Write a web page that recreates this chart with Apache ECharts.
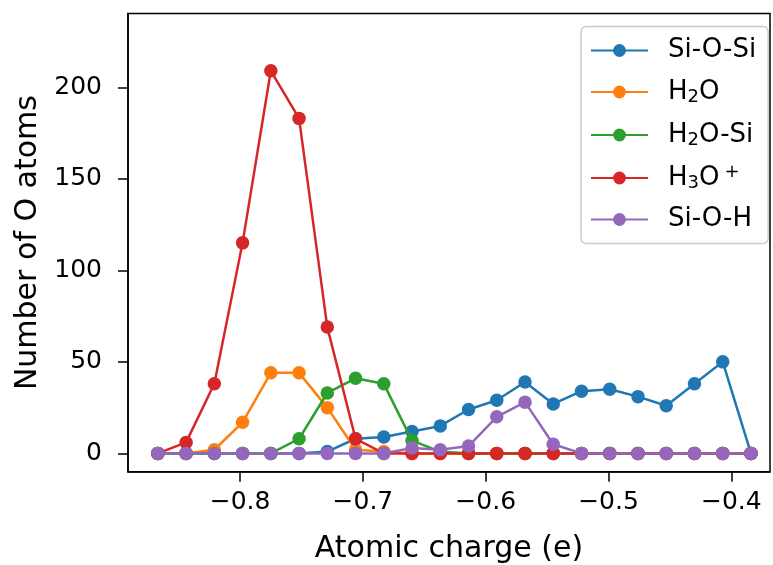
<!DOCTYPE html>
<html><head><meta charset="utf-8">
<script src="https://cdn.jsdelivr.net/npm/echarts@6/dist/echarts.min.js"></script>
<style>html,body{margin:0;padding:0;background:#fff}#c{width:773px;height:565px}</style>
</head><body><div id="c"></div>
<script>
const charges = [-0.867,-0.844,-0.821,-0.798,-0.775,-0.752,-0.729,-0.706,-0.683,-0.660,-0.637,-0.614,-0.591,-0.568,-0.545,-0.522,-0.499,-0.476,-0.453,-0.430,-0.407,-0.384];
const siOSi = [0,0,0,0,0,0,1,8,9,12,15,24,29,39,27,34,35,31,26,38,50,0];
const h2o   = [0,0,2,17,44,44,25,2,1,0,0,0,0,0,0,0,0,0,0,0,0,0];
const h2oSi = [0,0,0,0,0,8,33,41,38,7,1,0,0,0,0,0,0,0,0,0,0,0];
const h3o   = [0,6,38,115,209,183,69,8,0,0,0,0,0,0,0,0,0,0,0,0,0,0];
const siOH  = [0,0,0,0,0,0,0,0,0,3,2,4,20,28,5,0,0,0,0,0,0,0];
const seriesNames = ['Si-O-Si','H2O','H2O-Si','H3O+','Si-O-H'];
const seriesValues = [siOSi,h2o,h2oSi,h3o,siOH];
const colors = ['#1f77b4','#ff7f0e','#2ca02c','#d62728','#9467bd'];
const xTicks = [-0.8,-0.7,-0.6,-0.5,-0.4];
const yTicks = [0,50,100,150,200];

const FONT = 'DejaVu Sans';
const richNames = {
  'Si-O-Si': '{n|Si-O-Si}',
  'H2O': '{n|H}{sub|2}{n|O}',
  'H2O-Si': '{n|H}{sub|2}{n|O-Si}',
  'H3O+': '{n|H}{sub|3}{n|O}{sup|+}',
  'Si-O-H': '{n|Si-O-H}'
};
const chart = echarts.init(document.getElementById('c'), null, {renderer:'canvas'});
const fmt = v => (v < 0 ? '\u2212' : '') + Math.abs(v).toFixed(1);
chart.setOption({
  animation:false,
  backgroundColor:'#fff',
  textStyle:{fontFamily:FONT, color:'#000'},
  grid:{left:128, right:3, top:13.5, bottom:93.3, containLabel:false, outerBoundsMode:'none',
        show:true, borderColor:'#000', borderWidth:1.5, backgroundColor:'transparent'},
  xAxis:{
    type:'value', min:-0.8913, max:-0.3685,
    name:'Atomic charge (e)', nameLocation:'middle', nameGap:63,
    nameTextStyle:{fontSize:30, fontFamily:FONT, color:'#000'},
    axisLine:{show:true, onZero:false, lineStyle:{color:'#000', width:1.5}},
    axisTick:{show:true, length:10, lineStyle:{color:'#000', width:1.5}, customValues:xTicks},
    axisLabel:{fontSize:25, fontFamily:FONT, color:'#000', margin:18, customValues:xTicks, formatter:fmt},
    splitLine:{show:false}
  },
  yAxis:{
    type:'value', min:-10, max:240.3,
    name:'Number of O atoms', nameLocation:'middle', nameGap:83,
    nameTextStyle:{fontSize:30, fontFamily:FONT, color:'#000'},
    axisLine:{show:true, onZero:false, lineStyle:{color:'#000', width:1.5}},
    axisTick:{show:true, length:10, lineStyle:{color:'#000', width:1.5}, customValues:yTicks},
    axisLabel:{fontSize:25, fontFamily:FONT, color:'#000', margin:26, customValues:yTicks},
    splitLine:{show:false}
  },
  legend:{
    orient:'vertical', left:581, top:26.5, itemWidth:57, itemHeight:16, itemGap:14,
    padding:[11,12,11,9],
    backgroundColor:'rgba(255,255,255,0.8)', borderColor:'#cccccc', borderWidth:1.5, borderRadius:5,
    data:seriesNames,
    formatter: name => richNames[name],
    textStyle:{
      fontFamily:FONT, fontSize:26, color:'#000', padding:[0,0,0,15],
      rich:{
        n:{fontFamily:FONT, fontSize:26, lineHeight:30, color:'#000'},
        sub:{fontFamily:FONT, fontSize:18, lineHeight:30, color:'#000', padding:[11,0,0,0]},
        sup:{fontFamily:FONT, fontSize:18, lineHeight:30, color:'#000', padding:[0,0,11,5]}
      }
    }
  },
  series: seriesNames.map((nm,i)=>({
    name:nm, type:'line',
    data: charges.map((x,j)=>[x, seriesValues[i][j]]),
    symbol:'circle', symbolSize:13.5, showSymbol:true,
    itemStyle:{color:colors[i]},
    lineStyle:{color:colors[i], width:2.5},
    emphasis:{disabled:true},
    z:2+i
  }))
});
</script></body></html>
